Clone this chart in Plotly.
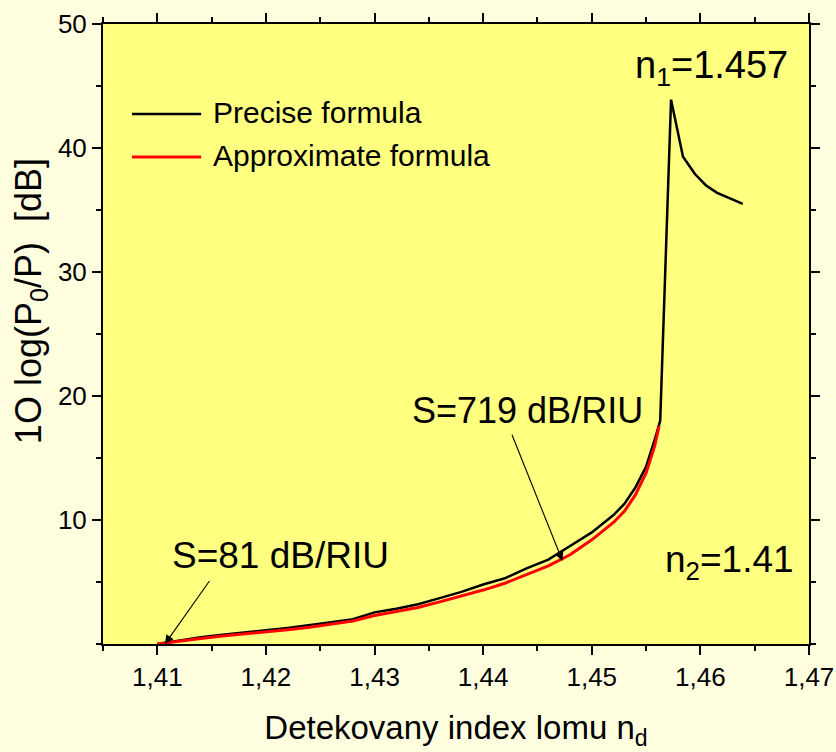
import plotly.graph_objects as go

# Detected refractive index n_d
n_precise = [1.410, 1.412, 1.414, 1.416, 1.418, 1.420, 1.422, 1.424, 1.426, 1.428,
             1.430, 1.432, 1.434, 1.436, 1.438, 1.440, 1.442, 1.444, 1.446, 1.448,
             1.450, 1.452, 1.453, 1.454, 1.455, 1.4558, 1.4563, 1.4573, 1.4584,
             1.4595, 1.4605, 1.4615, 1.4628, 1.4639]
# Attenuation 10 log(P0/P) [dB], precise formula
att_precise = [0.0, 0.3, 0.55, 0.75, 0.9, 1.1, 1.3, 1.5, 1.75, 2.0,
               2.55, 2.85, 3.2, 3.7, 4.2, 4.8, 5.3, 6.1, 6.8, 7.9,
               9.0, 10.4, 11.3, 12.6, 14.3, 16.5, 18.0, 43.9, 39.3,
               37.9, 37.0, 36.4, 35.9, 35.5]

n_approx = [1.410, 1.412, 1.414, 1.416, 1.418, 1.420, 1.422, 1.424, 1.426, 1.428,
            1.430, 1.432, 1.434, 1.436, 1.438, 1.440, 1.442, 1.444, 1.446, 1.448,
            1.450, 1.452, 1.453, 1.454, 1.455, 1.4558, 1.4562]
# Attenuation, approximate formula
att_approx = [0.0, 0.25, 0.45, 0.65, 0.8, 0.95, 1.15, 1.35, 1.6, 1.85,
              2.3, 2.6, 2.95, 3.4, 3.85, 4.35, 4.9, 5.6, 6.3, 7.2,
              8.4, 9.8, 10.7, 12.0, 13.8, 16.0, 17.6]

series_names = ["Precise formula", "Approximate formula"]
series_colors = ["black", "#ff0000"]
series_widths = [2.5, 3]

x_ticks = [1.41, 1.42, 1.43, 1.44, 1.45, 1.46, 1.47]
y_ticks = [10, 20, 30, 40, 50]

FONT = "Arial, Liberation Sans, sans-serif"

fig = go.Figure()
for xs, ys, name, col, w in zip([n_precise, n_approx], [att_precise, att_approx],
                                series_names, series_colors, series_widths):
    fig.add_trace(go.Scatter(x=xs, y=ys, mode="lines", name=name,
                             line=dict(color=col, width=w), showlegend=False))

# legend block (line sample + label), upper left of the plot area
for i, (name, col, w) in enumerate(zip(series_names, series_colors, series_widths)):
    yp = 0.855 - i * 0.0694
    fig.add_shape(type="line", xref="paper", yref="paper",
                  x0=0.041, x1=0.139, y0=yp, y1=yp,
                  line=dict(color=col, width=w))
    fig.add_annotation(xref="paper", yref="paper", x=0.153, y=yp + 0.003,
                       xanchor="left", yanchor="middle", text=name,
                       showarrow=False,
                       font=dict(size=30, color="black", family=FONT))

# sensitivity labels with arrows
fig.add_annotation(x=1.4107, y=0.0, ax=1.4149, ay=5.2, axref="x", ayref="y",
                   text="", showarrow=True, arrowhead=2, arrowsize=1.6,
                   arrowwidth=1.1, arrowcolor="black")
fig.add_annotation(x=1.4473, y=6.7, ax=1.4426, ay=17.0, axref="x", ayref="y",
                   text="", showarrow=True, arrowhead=2, arrowsize=1.6,
                   arrowwidth=1.1, arrowcolor="black")
fig.add_annotation(x=1.4213, y=7.15, text="S=81 dB/RIU", showarrow=False,
                   font=dict(size=37, color="black", family=FONT))
fig.add_annotation(x=1.4441, y=18.8, text="S=719 dB/RIU", showarrow=False,
                   font=dict(size=36, color="black", family=FONT))
fig.add_annotation(x=1.4610, y=46.45, text="n<sub>1</sub>=1.457", showarrow=False,
                   font=dict(size=38, color="black", family=FONT))
fig.add_annotation(x=1.4627, y=6.6, text="n<sub>2</sub>=1.41", showarrow=False,
                   font=dict(size=37, color="black", family=FONT))

# y-axis title
fig.add_annotation(xref="paper", yref="paper", x=-0.102, y=0.553,
                   xanchor="center", yanchor="middle", textangle=-90,
                   text="1O log(P<sub>0</sub>/P)  [dB]", showarrow=False,
                   font=dict(size=36, color="black", family=FONT))

axis_common = dict(
    showline=True, linecolor="black", linewidth=2, mirror="ticks",
    ticks="outside", ticklen=9, tickwidth=1.5, tickcolor="black",
    showgrid=False, zeroline=False, automargin=False,
    tickfont=dict(size=26, color="black", family=FONT),
)

fig.update_xaxes(
    range=[1.405, 1.47], tickvals=x_ticks, tickformat=".2f",
    minor=dict(dtick=0.005, tick0=1.405, ticks="outside", ticklen=5, tickcolor="black"),
    title=dict(text="Detekovany index lomu n<sub>d</sub>", standoff=25,
               font=dict(size=33, color="black", family=FONT)),
    **axis_common,
)
fig.update_yaxes(
    range=[0, 50], tickvals=y_ticks,
    minor=dict(dtick=5, tick0=0, ticks="outside", ticklen=5, tickcolor="black"),
    **axis_common,
)

fig.update_layout(
    width=836, height=752,
    margin=dict(l=103, r=27, t=24, b=108),
    paper_bgcolor="#FFFFE0",
    plot_bgcolor="#FFFF80",
    separators=",.",
    font=dict(family=FONT, color="black"),
    showlegend=False,
)

fig.write_html("out.html")
